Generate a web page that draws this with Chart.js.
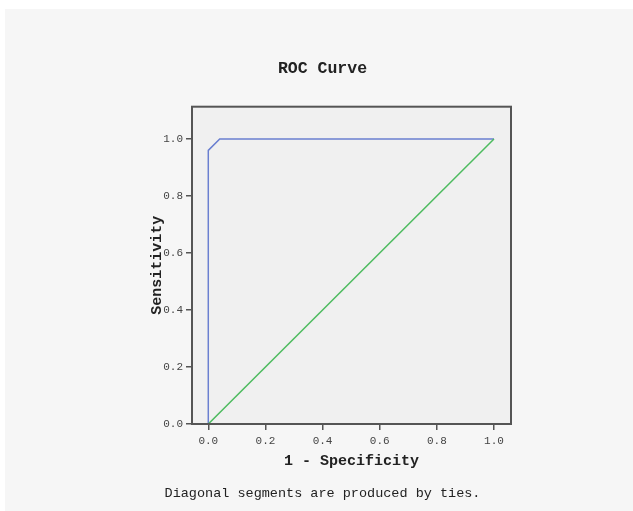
<!DOCTYPE html>
<html>
<head>
<meta charset="utf-8">
<title>ROC Curve</title>
<script src="https://cdn.jsdelivr.net/npm/chart.js@4/dist/chart.umd.min.js"></script>
<style>
  body { margin: 0; background: #ffffff; }
  canvas { display: block; }
</style>
</head>
<body>
<canvas id="roc" width="633" height="511"></canvas>
<script>
// ROC curve points (1 - specificity, sensitivity)
const rocX = [0, 0, 0.04, 1];
const rocY = [0, 0.96, 1, 1];
// reference diagonal
const diagX = [0, 1];
const diagY = [0, 1];
const tickValues = [0, 0.2, 0.4, 0.6, 0.8, 1.0];

const monoFont = '"Courier New", "Liberation Mono", monospace';

function toPoints(xs, ys) {
    return xs.map((x, i) => ({ x: x, y: ys[i] }));
}

// panel background + plot area fill + frame
const panelPlugin = {
    id: 'panel',
    beforeDraw(chart) {
        const c = chart.ctx;
        const a = chart.chartArea;
        c.save();
        c.fillStyle = '#ffffff';
        c.fillRect(0, 0, chart.width, chart.height);
        c.fillStyle = '#f6f6f6';
        c.fillRect(5, 9, chart.width - 5, chart.height - 9);
        c.fillStyle = '#f0f0f0';
        c.fillRect(a.left, a.top, a.right - a.left, a.bottom - a.top);
        c.restore();
    },
    afterDatasetsDraw(chart) {
        const c = chart.ctx;
        const a = chart.chartArea;
        c.save();
        c.strokeStyle = '#555555';
        c.lineWidth = 2;
        c.strokeRect(a.left, a.top, a.right - a.left, a.bottom - a.top);
        c.restore();
    }
};

const ctx = document.getElementById('roc');
const chart = new Chart(ctx, {
    type: 'scatter',
    data: {
        datasets: [{
            label: 'Reference Line',
            data: toPoints(diagX, diagY),
            showLine: true,
            borderColor: '#4dbb5f',
            borderWidth: 1.5,
            pointRadius: 0,
        }, {
            label: 'ROC',
            data: toPoints(rocX, rocY),
            showLine: true,
            borderColor: '#6a7fd0',
            borderWidth: 1.5,
            pointRadius: 0,
        }]
    },
    options: {
        responsive: false,
        animation: false,
        devicePixelRatio: 1,
        layout: { padding: { left: 134, right: 122, top: 0, bottom: 0 } },
        plugins: {
            legend: { display: false },
            tooltip: { enabled: false },
            title: {
                display: true,
                text: 'ROC Curve',
                color: '#222222',
                font: { family: monoFont, size: 16.5, weight: 'bold', lineHeight: 1.2 },
                padding: { top: 59.1, bottom: 27.8 }
            },
            subtitle: {
                display: true,
                position: 'bottom',
                text: 'Diagonal segments are produced by ties.',
                color: '#222222',
                font: { family: monoFont, size: 13.5, weight: 'normal', lineHeight: 1.2 },
                padding: { top: 11.6, bottom: 9.2 }
            }
        },
        scales: {
            x: {
                type: 'linear',
                min: -0.057,
                max: 1.0595,
                afterBuildTicks: s => { s.ticks = tickValues.map(v => ({ value: v })); },
                afterFit: s => { s.height = 50; },
                border: { display: false },
                grid: { drawOnChartArea: false, tickLength: 6, color: '#555555', lineWidth: 1.5 },
                ticks: {
                    padding: 4,
                    color: '#444444',
                    font: { family: monoFont, size: 11 },
                    callback: v => v.toFixed(1)
                },
                title: {
                    display: true,
                    text: '1 - Specificity',
                    color: '#222222',
                    font: { family: monoFont, size: 15, weight: 'bold', lineHeight: 1.2 },
                    padding: { top: 4, bottom: 4 }
                }
            },
            y: {
                type: 'linear',
                min: 0,
                max: 1.1132,
                afterBuildTicks: s => { s.ticks = tickValues.map(v => ({ value: v })); },
                afterFit: s => { s.width = 58; },
                border: { display: false },
                grid: { drawOnChartArea: false, tickLength: 6, color: '#555555', lineWidth: 1.5 },
                ticks: {
                    padding: 3,
                    color: '#444444',
                    font: { family: monoFont, size: 11 },
                    callback: v => v.toFixed(1)
                },
                title: {
                    display: true,
                    text: 'Sensitivity',
                    color: '#222222',
                    font: { family: monoFont, size: 15, weight: 'bold', lineHeight: 1.2 },
                    padding: { top: 14, bottom: 4 }
                }
            }
        }
    },
    plugins: [panelPlugin]
});
</script>
</body>
</html>
